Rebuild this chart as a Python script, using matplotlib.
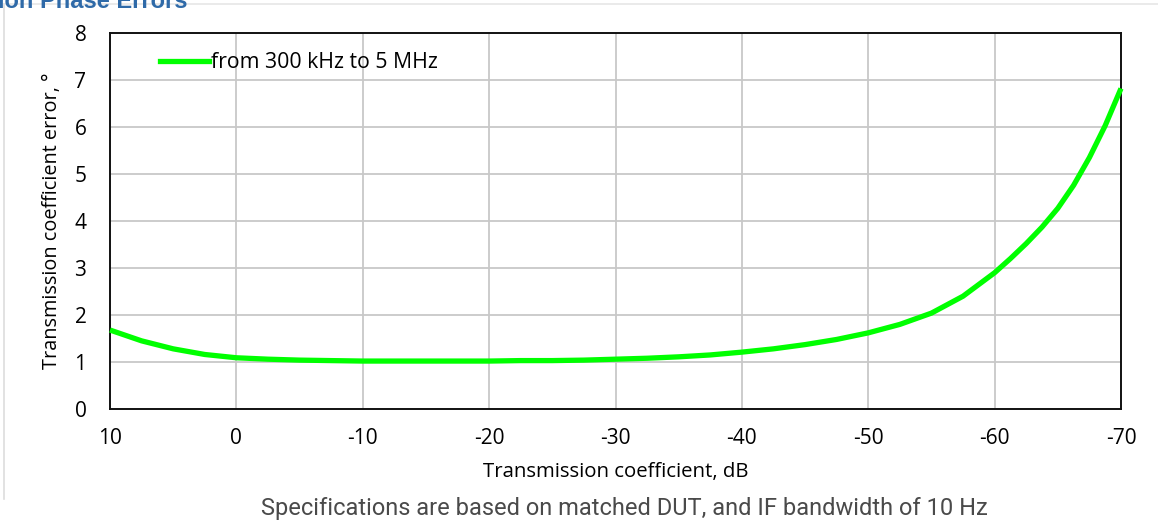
import matplotlib
matplotlib.use("Agg")
import matplotlib.pyplot as plt
from matplotlib.lines import Line2D

# Data
tc_db = [10, 7.5, 5, 2.5, 0, -2.5, -5, -7.5, -10, -12.5, -15, -17.5, -20, -22.5,
         -25, -27.5, -30, -32.5, -35, -37.5, -40, -42.5, -45, -47.5, -50, -52.5,
         -55, -57.5, -60, -61.25, -62.5, -63.75, -65, -66.25, -67.5, -68.75, -70]
err_deg = [1.68, 1.45, 1.28, 1.16, 1.09, 1.06, 1.04, 1.03, 1.02, 1.02, 1.02, 1.02,
           1.02, 1.03, 1.03, 1.04, 1.06, 1.08, 1.11, 1.15, 1.21, 1.28, 1.37, 1.48,
           1.62, 1.80, 2.04, 2.40, 2.90, 3.20, 3.52, 3.87, 4.27, 4.76, 5.35, 6.03, 6.82]
series_label = "from 300 kHz to 5 MHz"
x_ticks = [10, 0, -10, -20, -30, -40, -50, -60, -70]
y_ticks = [0, 1, 2, 3, 4, 5, 6, 7, 8]

W, H = 1158, 525
fig = plt.figure(figsize=(W / 100, H / 100), dpi=100)
fig.patch.set_facecolor("white")

L, R, T, B = 110, 1121, 33, 409
ax = fig.add_axes([L / W, 1 - B / H, (R - L) / W, (B - T) / H])

FONT = ["Open Sans", "DejaVu Sans"]

ax.plot(tc_db, err_deg, color="#00ff00", lw=3.8, solid_joinstyle="round",
        solid_capstyle="butt", zorder=3, clip_on=False)
ax.set_xlim(10, -70)
ax.set_ylim(0, 8)
ax.set_xticks(x_ticks)
ax.set_yticks(y_ticks)
ax.set_xticklabels([str(v) for v in x_ticks], family=FONT, fontsize=15)
ax.set_yticklabels([str(v) for v in y_ticks], family=FONT, fontsize=15)
ax.tick_params(length=0)
ax.tick_params(axis="x", pad=14)
ax.tick_params(axis="y", pad=17)
ax.grid(True, color="#c8c8c8", lw=1.3)
ax.set_axisbelow(True)
for s in ax.spines.values():
    s.set_color("#111111")
    s.set_linewidth(1.4)

ax.set_xlabel("Transmission coefficient, dB", family=FONT, fontsize=14.7, labelpad=9)
ax.set_ylabel("Transmission coefficient error, °", family=FONT, fontsize=14.3, labelpad=9)

handle = Line2D([], [], color="#00ff00", lw=3.8)
leg = ax.legend([handle], [series_label], loc="center left",
                bbox_to_anchor=(141 / W, 1 - 63 / H), bbox_transform=fig.transFigure,
                frameon=False, handlelength=2.3, handletextpad=0.1,
                prop={"family": FONT, "size": 15.3})

# decorative frame lines and cut-off title
fig.add_artist(Line2D([4 / W, 4 / W], [1 - 4 / H, 1 - 499 / H], color="#dddddd", lw=1.2,
                      transform=fig.transFigure))
fig.add_artist(Line2D([4 / W, 1], [1 - 4 / H, 1 - 4 / H], color="#e6e6e6", lw=1.2,
                      transform=fig.transFigure))
fig.text(-2 / W, 1 - 1 / H, "ion Phase Errors", color="#2f6aa8", fontweight="bold",
         family=["Liberation Sans", "DejaVu Sans"], fontsize=17, ha="left", va="center")

fig.text(0.5 * (263 + 985) / W, 1 - 508 / H,
         "Specifications are based on matched DUT, and IF bandwidth of 10 Hz",
         color="#4a4a4a", family=["Roboto", "DejaVu Sans"], fontsize=17,
         ha="center", va="center")

fig.savefig("out.png", dpi=100, facecolor="white")
